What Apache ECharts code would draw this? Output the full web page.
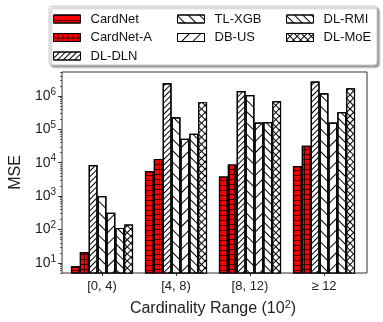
<!DOCTYPE html>
<html>
<head>
<meta charset="utf-8">
<script src="https://cdn.jsdelivr.net/npm/echarts@6/dist/echarts.min.js"></script>
<style>html,body{margin:0;padding:0;background:#fff}#chart{width:383px;height:322px}</style>
</head>
<body>
<div id="chart"></div>
<script>
// data (MSE, log scale)
const categories = ['[0, 4)', '[4, 8)', '[8, 12)', '\u2265 12'];
const cardNet  = [8, 5600, 3900, 8000];
const cardNetA = [21, 13000, 8900, 32000];
const dlDLN    = [8500, 2400000, 1400000, 2700000];
const tlXGB    = [1000, 230000, 1070000, 1200000];
const dbUS     = [316, 52000, 160000, 160000];
const dlRMI    = [112, 74000, 165000, 330000];
const dlMoE    = [141, 650000, 690000, 1700000];
const majorTicks = [10, 100, 1000, 10000, 100000, 1000000];

const seriesNames = ['CardNet', 'CardNet-A', 'DL-DLN', 'TL-XGB', 'DB-US', 'DL-RMI', 'DL-MoE'];
const seriesData = [cardNet, cardNetA, dlDLN, tlXGB, dbUS, dlRMI, dlMoE];

let minorTicks = [];
[1, 10, 100, 1000, 10000, 100000, 1000000].forEach(function (d) {
  for (let k = 2; k <= 9; k++) minorTicks.push(k * d);
});

const FONT = 'Liberation Sans';
const fills = ['#ff0000', '#ff0000', '#fff', '#fff', '#fff', '#fff', '#fff'];
const decals = [
  // horizontal lines
  { symbol: 'rect', symbolSize: 1, dashArrayX: [1, 0], dashArrayY: [1, 3.5], color: '#550000', rotation: 0 },
  // grid
  { symbol: 'rect', symbolSize: 1, dashArrayX: [3.5, 1], dashArrayY: [3.5, 1], color: '#ff0000', backgroundColor: '#3a0000', rotation: 0 },
  // dense ////
  { symbol: 'rect', symbolSize: 1, dashArrayX: [1, 0], dashArrayY: [1, 2.2], color: '#000', rotation: -Math.PI / 4 },
  // sparse \
  { symbol: 'rect', symbolSize: 1, dashArrayX: [1, 0], dashArrayY: [1, 7], color: '#000', rotation: Math.PI / 4 },
  // sparse /
  { symbol: 'rect', symbolSize: 1, dashArrayX: [1, 0], dashArrayY: [1, 7], color: '#000', rotation: -Math.PI / 4 },
  // \\
  { symbol: 'rect', symbolSize: 1, dashArrayX: [1, 0], dashArrayY: [1, 4.5], color: '#000', rotation: Math.PI / 4 },
  // xx
  { symbol: 'rect', symbolSize: 1, dashArrayX: [4, 1], dashArrayY: [4, 1], color: '#fff', backgroundColor: '#000', rotation: Math.PI / 4 }
];

const chart = echarts.init(document.getElementById('chart'), null, { renderer: 'canvas' });

const legendBase = {
  orient: 'vertical',
  top: 7,
  itemWidth: 27,
  itemHeight: 8,
  itemGap: 4.5,
  icon: 'rect',
  z: 5,
  textStyle: { fontFamily: FONT, fontSize: 13, color: '#111', lineHeight: 14, padding: [0, 0, 0, 5] },
  itemStyle: { borderColor: '#000', borderWidth: 1 }
};

const option = {
  animation: false,
  textStyle: { fontFamily: FONT },
  graphic: [{
    type: 'rect',
    z: 0,
    shape: { x: 49, y: 6, width: 328, height: 59, r: 3 },
    style: { fill: '#fff', stroke: '#cccccc', lineWidth: 1, shadowBlur: 2, shadowOffsetX: 2, shadowOffsetY: 2, shadowColor: 'rgba(0,0,0,0.4)' }
  }],
  legend: [
    Object.assign({}, legendBase, { left: 48, data: ['CardNet', 'CardNet-A', 'DL-DLN'] }),
    Object.assign({}, legendBase, { left: 172, data: ['TL-XGB', 'DB-US'] }),
    Object.assign({}, legendBase, { left: 281, data: ['DL-RMI', 'DL-MoE'] })
  ],
  grid: [
    // frame + y axis
    { left: 58, right: 16, top: 72, bottom: 49, show: true, borderColor: '#333', borderWidth: 1, backgroundColor: 'transparent', containLabel: false },
    // bars
    { left: 65, right: 22, top: 72, bottom: 49, containLabel: false }
  ],
  xAxis: [
    { type: 'value', gridIndex: 0, show: false },
    {
      type: 'category', gridIndex: 1, data: categories,
      axisLine: { show: false },
      axisTick: { show: true, alignWithLabel: true, length: 3, lineStyle: { color: '#333' } },
      axisLabel: { fontFamily: FONT, fontSize: 13, color: '#222', margin: 7 },
      name: 'Cardinality Range (10{sup|2})',
      nameLocation: 'middle',
      nameGap: 26,
      nameTextStyle: {
        fontFamily: FONT, fontSize: 16, color: '#222',
        rich: { sup: { fontFamily: FONT, fontSize: 11, color: '#222', verticalAlign: 'bottom', padding: [0, 0, 8, 0] } }
      }
    }
  ],
  yAxis: [
    {
      type: 'log', gridIndex: 0, position: 'left', min: 5, max: 5200000, logBase: 10,
      axisLine: { show: false },
      splitLine: { show: false },
      axisTick: { show: true, length: 4, customValues: majorTicks, lineStyle: { color: '#333' } },
      axisLabel: {
        customValues: majorTicks, margin: 6, fontFamily: FONT, fontSize: 14, color: '#222',
        formatter: function (v) { return '10{sup|' + Math.round(Math.log10(v)) + '}'; },
        rich: { sup: { fontFamily: FONT, fontSize: 10, color: '#222', verticalAlign: 'bottom', padding: [0, 0, 8, 0] } }
      },
      name: 'MSE', nameLocation: 'middle', nameGap: 36,
      nameTextStyle: { fontFamily: FONT, fontSize: 16, color: '#222' }
    },
    {
      type: 'log', gridIndex: 0, position: 'left', offset: 0, min: 5, max: 5200000, logBase: 10,
      axisLine: { show: false }, splitLine: { show: false }, axisLabel: { show: false },
      axisTick: { show: true, length: 2, customValues: minorTicks, lineStyle: { color: '#555' } }
    },
    { type: 'log', gridIndex: 1, min: 5, max: 5200000, logBase: 10, show: false }
  ],
  series: seriesNames.map(function (name, i) {
    return {
      name: name,
      type: 'bar',
      xAxisIndex: 1,
      yAxisIndex: 2,
      data: seriesData[i],
      barGap: 0,
      barCategoryGap: '16%',
      itemStyle: { color: fills[i], borderColor: '#000', borderWidth: 1.2, decal: decals[i] }
    };
  })
};

chart.setOption(option);
</script>
</body>
</html>
